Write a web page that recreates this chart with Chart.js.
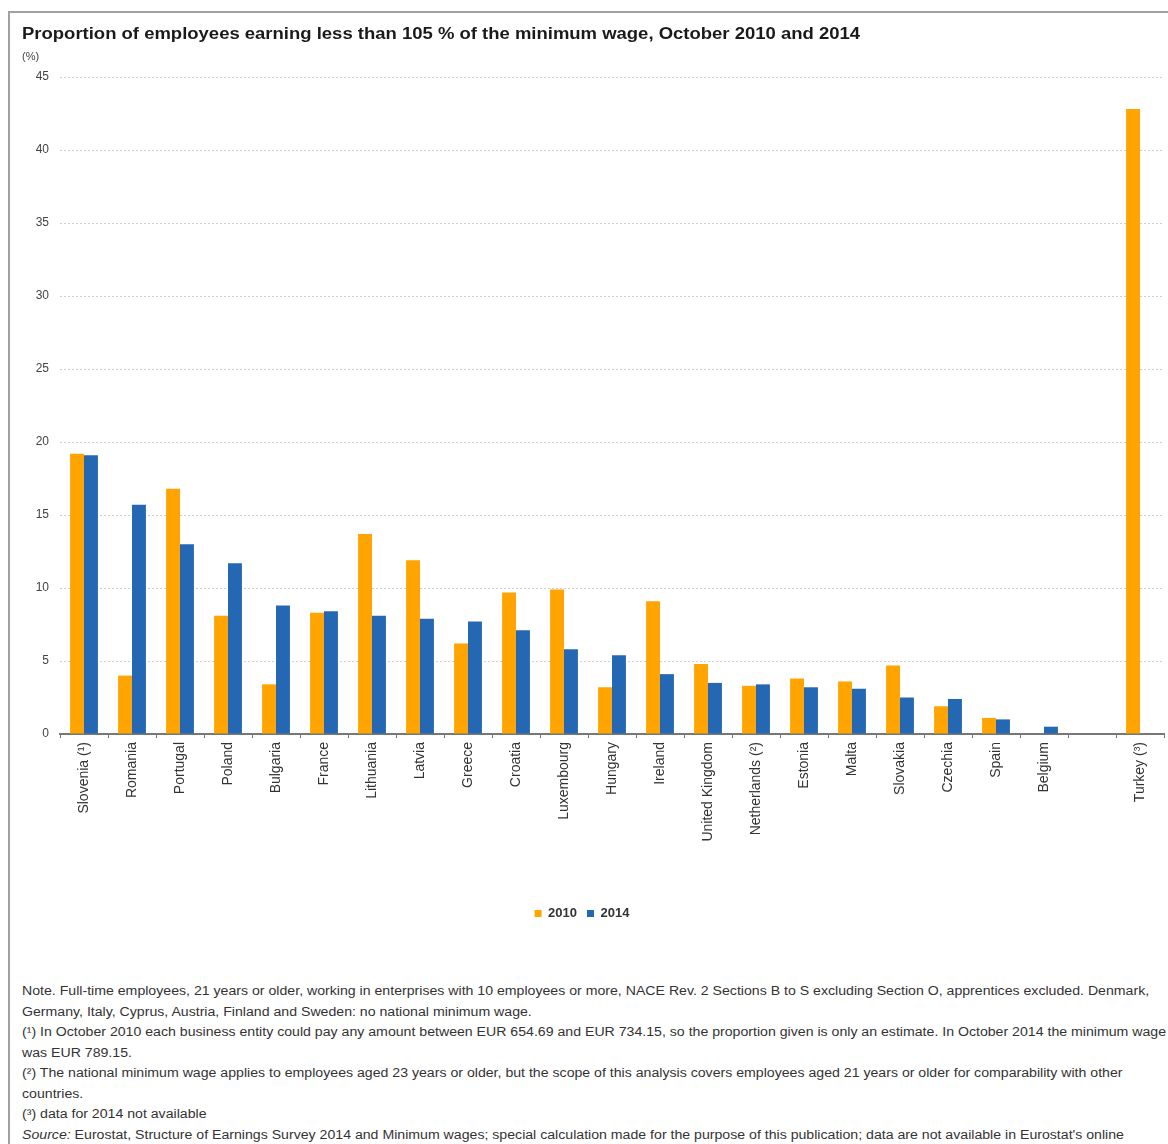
<!DOCTYPE html>
<html>
<head>
<meta charset="utf-8">
<script src="https://cdn.jsdelivr.net/npm/chart.js@4"></script>
<style>
  html, body { margin: 0; padding: 0; background: #fff; overflow: hidden; }
  body { width: 1168px; height: 1144px; position: relative; font-family: 'Liberation Sans', Arial, sans-serif; }
  #frame { position: absolute; left: 8px; top: 11px; width: 1300px; height: 1300px; border: 2px solid #a0a0a0; }
  #chartWrap { position: absolute; left: 0; top: 0; }
  .title { position: absolute; left: 22px; top: 25px; font-weight: bold; font-size: 16px; color: #1a1a1a; white-space: nowrap;
           transform: scaleX(1.155); transform-origin: left top; }
  .unit { position: absolute; left: 22px; top: 50px; font-size: 11px; color: #444; }
  .notes { position: absolute; left: 22px; top: 981px; font-size: 12.5px; line-height: 20.5px; color: #333; white-space: nowrap;
           transform: scaleX(1.13); transform-origin: left top; }
</style>
</head>
<body>
<div id="frame"></div>
<div id="chartWrap"><canvas id="wageChart" width="1168" height="940"></canvas></div>
<div class="title">Proportion of employees earning less than 105 % of the minimum wage, October 2010 and 2014</div>
<div class="unit">(%)</div>
<div class="notes">
  Note. Full-time employees, 21 years or older, working in enterprises with 10 employees or more, NACE Rev. 2 Sections B to S excluding Section O, apprentices excluded. Denmark,<br>
  Germany, Italy, Cyprus, Austria, Finland and Sweden: no national minimum wage.<br>
  (¹) In October 2010 each business entity could pay any amount between EUR 654.69 and EUR 734.15, so the proportion given is only an estimate. In October 2014 the minimum wage<br>
  was EUR 789.15.<br>
  (²) The national minimum wage applies to employees aged 23 years or older, but the scope of this analysis covers employees aged 21 years or older for comparability with other<br>
  countries.<br>
  (³) data for 2014 not available<br>
  <i>Source:</i> Eurostat, Structure of Earnings Survey 2014 and Minimum wages; special calculation made for the purpose of this publication; data are not available in Eurostat's online
</div>
<script>
const countries = ['Slovenia (¹)', 'Romania', 'Portugal', 'Poland', 'Bulgaria', 'France', 'Lithuania', 'Latvia',
    'Greece', 'Croatia', 'Luxembourg', 'Hungary', 'Ireland', 'United Kingdom', 'Netherlands (²)', 'Estonia',
    'Malta', 'Slovakia', 'Czechia', 'Spain', 'Belgium', '', 'Turkey (³)'];
const values2010 = [19.2, 4.0, 16.8, 8.1, 3.4, 8.3, 13.7, 11.9, 6.2, 9.7, 9.9, 3.2, 9.1, 4.8, 3.3, 3.8,
    3.6, 4.7, 1.9, 1.1, null, null, 42.8];
const values2014 = [19.1, 15.7, 13.0, 11.7, 8.8, 8.4, 8.1, 7.9, 7.7, 7.1, 5.8, 5.4, 4.1, 3.5, 3.4, 3.2,
    3.1, 2.5, 2.4, 1.0, 0.5, null, null];
const yTicks = [0, 5, 10, 15, 20, 25, 30, 35, 40, 45];

const fontFamily = "'Liberation Sans', Arial, sans-serif";

// Bar chart, two years side by side
const wageChart = new Chart(document.getElementById('wageChart'), {
    type: 'bar',
    data: {
        labels: countries,
        datasets: [
            {
                label: '2010',
                data: values2010,
                backgroundColor: '#ffa400'
            },
            {
                label: '2014',
                data: values2014,
                backgroundColor: '#2467b3'
            }
        ]
    },
    options: {
        responsive: false,
        animation: false,
        categoryPercentage: 0.58,
        barPercentage: 1.0,
        layout: {
            padding: { top: 77, right: 4, bottom: 10, left: 0 }
        },
        plugins: {
            legend: {
                position: 'bottom',
                labels: {
                    boxWidth: 7,
                    boxHeight: 7,
                    padding: 10,
                    color: '#333',
                    font: { family: fontFamily, size: 13, weight: 'bold' }
                }
            },
            tooltip: { enabled: false }
        },
        scales: {
            x: {
                grid: {
                    drawOnChartArea: false,
                    drawTicks: true,
                    tickLength: 4,
                    color: '#777'
                },
                border: { display: true, color: '#777', width: 2 },
                ticks: {
                    minRotation: 90,
                    maxRotation: 90,
                    autoSkip: false,
                    padding: 4,
                    color: '#333',
                    font: { family: fontFamily, size: 14 }
                },
                afterFit: (scale) => { scale.height = 163; }
            },
            y: {
                min: 0,
                max: 45,
                afterBuildTicks: (scale) => { scale.ticks = yTicks.map(v => ({ value: v })); },
                grid: {
                    drawTicks: false,
                    color: '#cfcfcf',
                    lineWidth: 1
                },
                border: { display: false, dash: [2, 2] },
                ticks: {
                    padding: 11,
                    color: '#444',
                    font: { family: fontFamily, size: 12 }
                },
                afterFit: (scale) => { scale.width = 60; }
            }
        }
    }
});
</script>
</body>
</html>
